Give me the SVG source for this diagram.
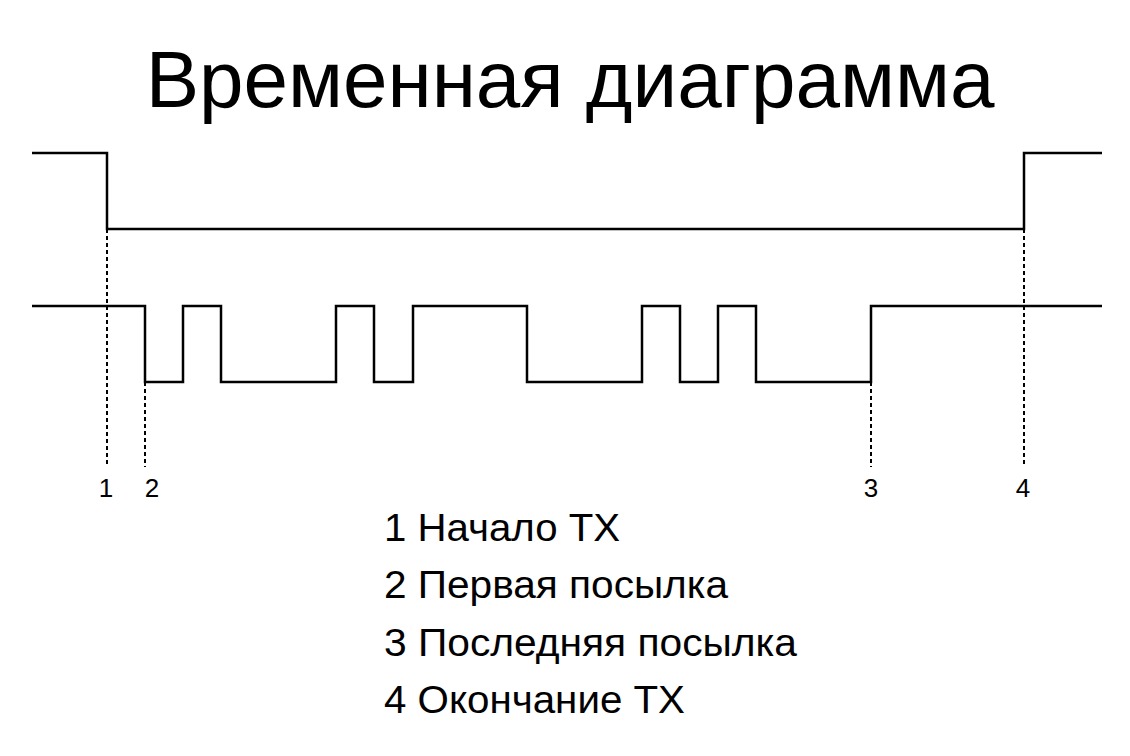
<svg xmlns="http://www.w3.org/2000/svg" width="1130" height="756" viewBox="0 0 1130 756">
<style>
.sig{fill:none;stroke:#000;stroke-width:2.5;stroke-linejoin:miter}
.dot{fill:none;stroke:#000;stroke-width:2;stroke-dasharray:4,3}
.t{font-family:"Liberation Sans",Arial,sans-serif;fill:#000}
</style>
<rect width="1130" height="756" fill="#fff"/>
<text id="title" class="t" x="570" y="107" font-size="80" text-anchor="middle">Временная диаграмма</text>
<g id="connectors">
<polyline id="sig-tx" class="sig" points="32,153 107,153 107,229 1024,229 1024,153 1102,153"/>
<polyline id="sig-data" class="sig" points="32,306 145,306 145,382 183,382 183,306 221,306 221,382 336,382 336,306 374,306 374,382 413,382 413,306 527,306 527,382 642,382 642,306 680,306 680,382 718,382 718,306 756,306 756,382 871,382 871,306 1102,306"/>
<line class="dot" x1="107" y1="229" x2="107" y2="467"/>
<line class="dot" x1="145" y1="382" x2="145" y2="467"/>
<line class="dot" x1="871" y1="382" x2="871" y2="467"/>
<line class="dot" x1="1024" y1="229" x2="1024" y2="467"/>
</g>
<g id="markers" class="t" font-size="26">
<text x="106" y="497" text-anchor="middle">1</text>
<text x="152" y="497" text-anchor="middle">2</text>
<text x="871" y="497" text-anchor="middle">3</text>
<text x="1023" y="497" text-anchor="middle">4</text>
</g>
<g id="legend" class="t" font-size="38">
<text x="384" y="541" textLength="236" lengthAdjust="spacingAndGlyphs">1 Начало ТХ</text>
<text x="384" y="598" textLength="344" lengthAdjust="spacingAndGlyphs">2 Первая посылка</text>
<text x="384" y="656" textLength="413" lengthAdjust="spacingAndGlyphs">3 Последняя посылка</text>
<text x="384" y="713" textLength="301" lengthAdjust="spacingAndGlyphs">4 Окончание ТХ</text>
</g>
</svg>
